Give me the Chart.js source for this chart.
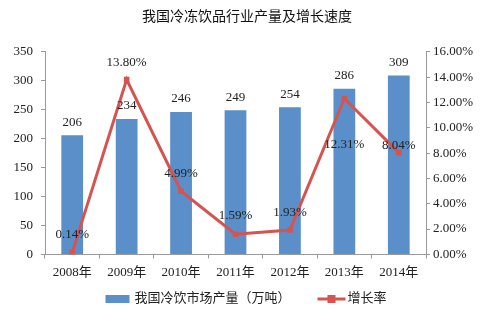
<!DOCTYPE html>
<html>
<head>
<meta charset="utf-8">
<script src="https://cdn.jsdelivr.net/npm/chart.js@4/dist/chart.umd.min.js"></script>
<style>
  html, body { margin: 0; padding: 0; background: #fff; }
  #wrap { width: 494px; height: 333px; }
</style>
</head>
<body>
<div id="wrap"><canvas id="mychart" width="494" height="333"></canvas></div>
<script>
const years = ['2008年', '2009年', '2010年', '2011年', '2012年', '2013年', '2014年'];
const output = [206, 234, 246, 249, 254, 286, 309];
const growth = [0.14, 13.80, 4.99, 1.59, 1.93, 12.31, 8.04];

// label nudges for the growth series, as in the source picture
const growthLabelShift = [-18, -17, -18, -19, -17, 46, -7];

const FONT = "'Liberation Serif', 'Noto Sans CJK SC', serif";
const BLUE = '#5B8FC9';
const RED = '#D5544F';
const AXIS = '#9A9A9A';
const TEXT = '#222';

const valueLabels = {
    id: 'valueLabels',
    afterDatasetsDraw(chart) {
        const ctx = chart.ctx;
        ctx.save();
        ctx.font = '13px ' + FONT;
        ctx.fillStyle = TEXT;
        ctx.textAlign = 'center';
        ctx.textBaseline = 'middle';
        chart.data.datasets.forEach((ds, di) => {
            const meta = chart.getDatasetMeta(di);
            meta.data.forEach((el, i) => {
                if (ds.type === 'bar') {
                    ctx.fillText(String(output[i]), el.x, el.y - 13);
                } else {
                    ctx.fillText(growth[i].toFixed(2) + '%', el.x, el.y + growthLabelShift[i]);
                }
            });
        });
        ctx.restore();
    }
};

// legend like the office chart: bar swatch, then line with square marker
const bottomLegend = {
    id: 'bottomLegend',
    afterDraw(chart) {
        const ctx = chart.ctx;
        const bar = chart.data.datasets.find(d => d.type === 'bar');
        const line = chart.data.datasets.find(d => d.type === 'line');
        ctx.save();
        ctx.font = '13px ' + FONT;
        ctx.textBaseline = 'middle';
        ctx.textAlign = 'left';
        const w1 = ctx.measureText(bar.label).width;
        const w2 = ctx.measureText(line.label).width;
        const total = 24 + 5 + w1 + 27 + 28 + 2 + w2;
        let x = 246 - total / 2;
        const y = 299;
        ctx.fillStyle = BLUE;
        ctx.fillRect(x, y - 4, 24, 8);
        x += 29;
        ctx.fillStyle = TEXT;
        ctx.fillText(bar.label, x, y);
        x += w1 + 27;
        ctx.strokeStyle = RED;
        ctx.lineWidth = 3;
        ctx.beginPath();
        ctx.moveTo(x, y);
        ctx.lineTo(x + 28, y);
        ctx.stroke();
        ctx.fillStyle = RED;
        ctx.fillRect(x + 10, y - 4, 8, 8);
        x += 30;
        ctx.fillStyle = TEXT;
        ctx.fillText(line.label, x, y);
        ctx.restore();
    }
};

const data = {
    labels: years,
    datasets: [
        {
            type: 'line',
            label: '增长率',
            data: growth,
            yAxisID: 'y1',
            borderColor: RED,
            backgroundColor: RED,
            borderWidth: 3,
            pointStyle: 'rect',
            pointRadius: 4,
            pointBorderWidth: 0,
            tension: 0,
            order: 0,
        },
        {
            type: 'bar',
            label: '我国冷饮市场产量（万吨）',
            data: output,
            yAxisID: 'y',
            backgroundColor: BLUE,
            barPercentage: 0.4,
            categoryPercentage: 1,
            order: 1,
        }
    ]
};

const config = {
    data: data,
    options: {
        responsive: false,
        animation: false,
        layout: { padding: { left: 0, right: 0, top: 0, bottom: 47 } },
        plugins: {
            title: {
                display: true,
                text: '我国冷冻饮品行业产量及增长速度',
                color: '#111',
                font: { size: 14, family: FONT, weight: 'normal' },
                padding: { top: 9, bottom: 26 },
            },
            legend: { display: false },
            tooltip: { enabled: false },
        },
        scales: {
            x: {
                grid: { display: true, drawOnChartArea: false, color: AXIS, tickLength: 4, offset: true },
                border: { color: AXIS },
                ticks: { color: TEXT, padding: 6, maxRotation: 0, font: { size: 13, family: FONT } },
            },
            y: {
                position: 'left',
                min: 0, max: 350,
                ticks: { stepSize: 50, color: TEXT, padding: 8, font: { size: 13, family: FONT } },
                grid: { display: true, drawOnChartArea: false, color: AXIS, tickLength: 4 },
                border: { color: AXIS },
                afterFit(scale) { scale.width = 45; },
            },
            y1: {
                position: 'right',
                min: 0, max: 16,
                ticks: {
                    stepSize: 2, color: TEXT, padding: 3,
                    font: { size: 13, family: FONT },
                    callback: (v) => v.toFixed(2) + '%',
                },
                grid: { display: true, drawOnChartArea: false, color: AXIS, tickLength: 4 },
                border: { color: AXIS },
                afterFit(scale) { scale.width = 68; },
            }
        }
    },
    plugins: [valueLabels, bottomLegend],
};

const ctx = document.getElementById('mychart').getContext('2d');
new Chart(ctx, config);
</script>
</body>
</html>
